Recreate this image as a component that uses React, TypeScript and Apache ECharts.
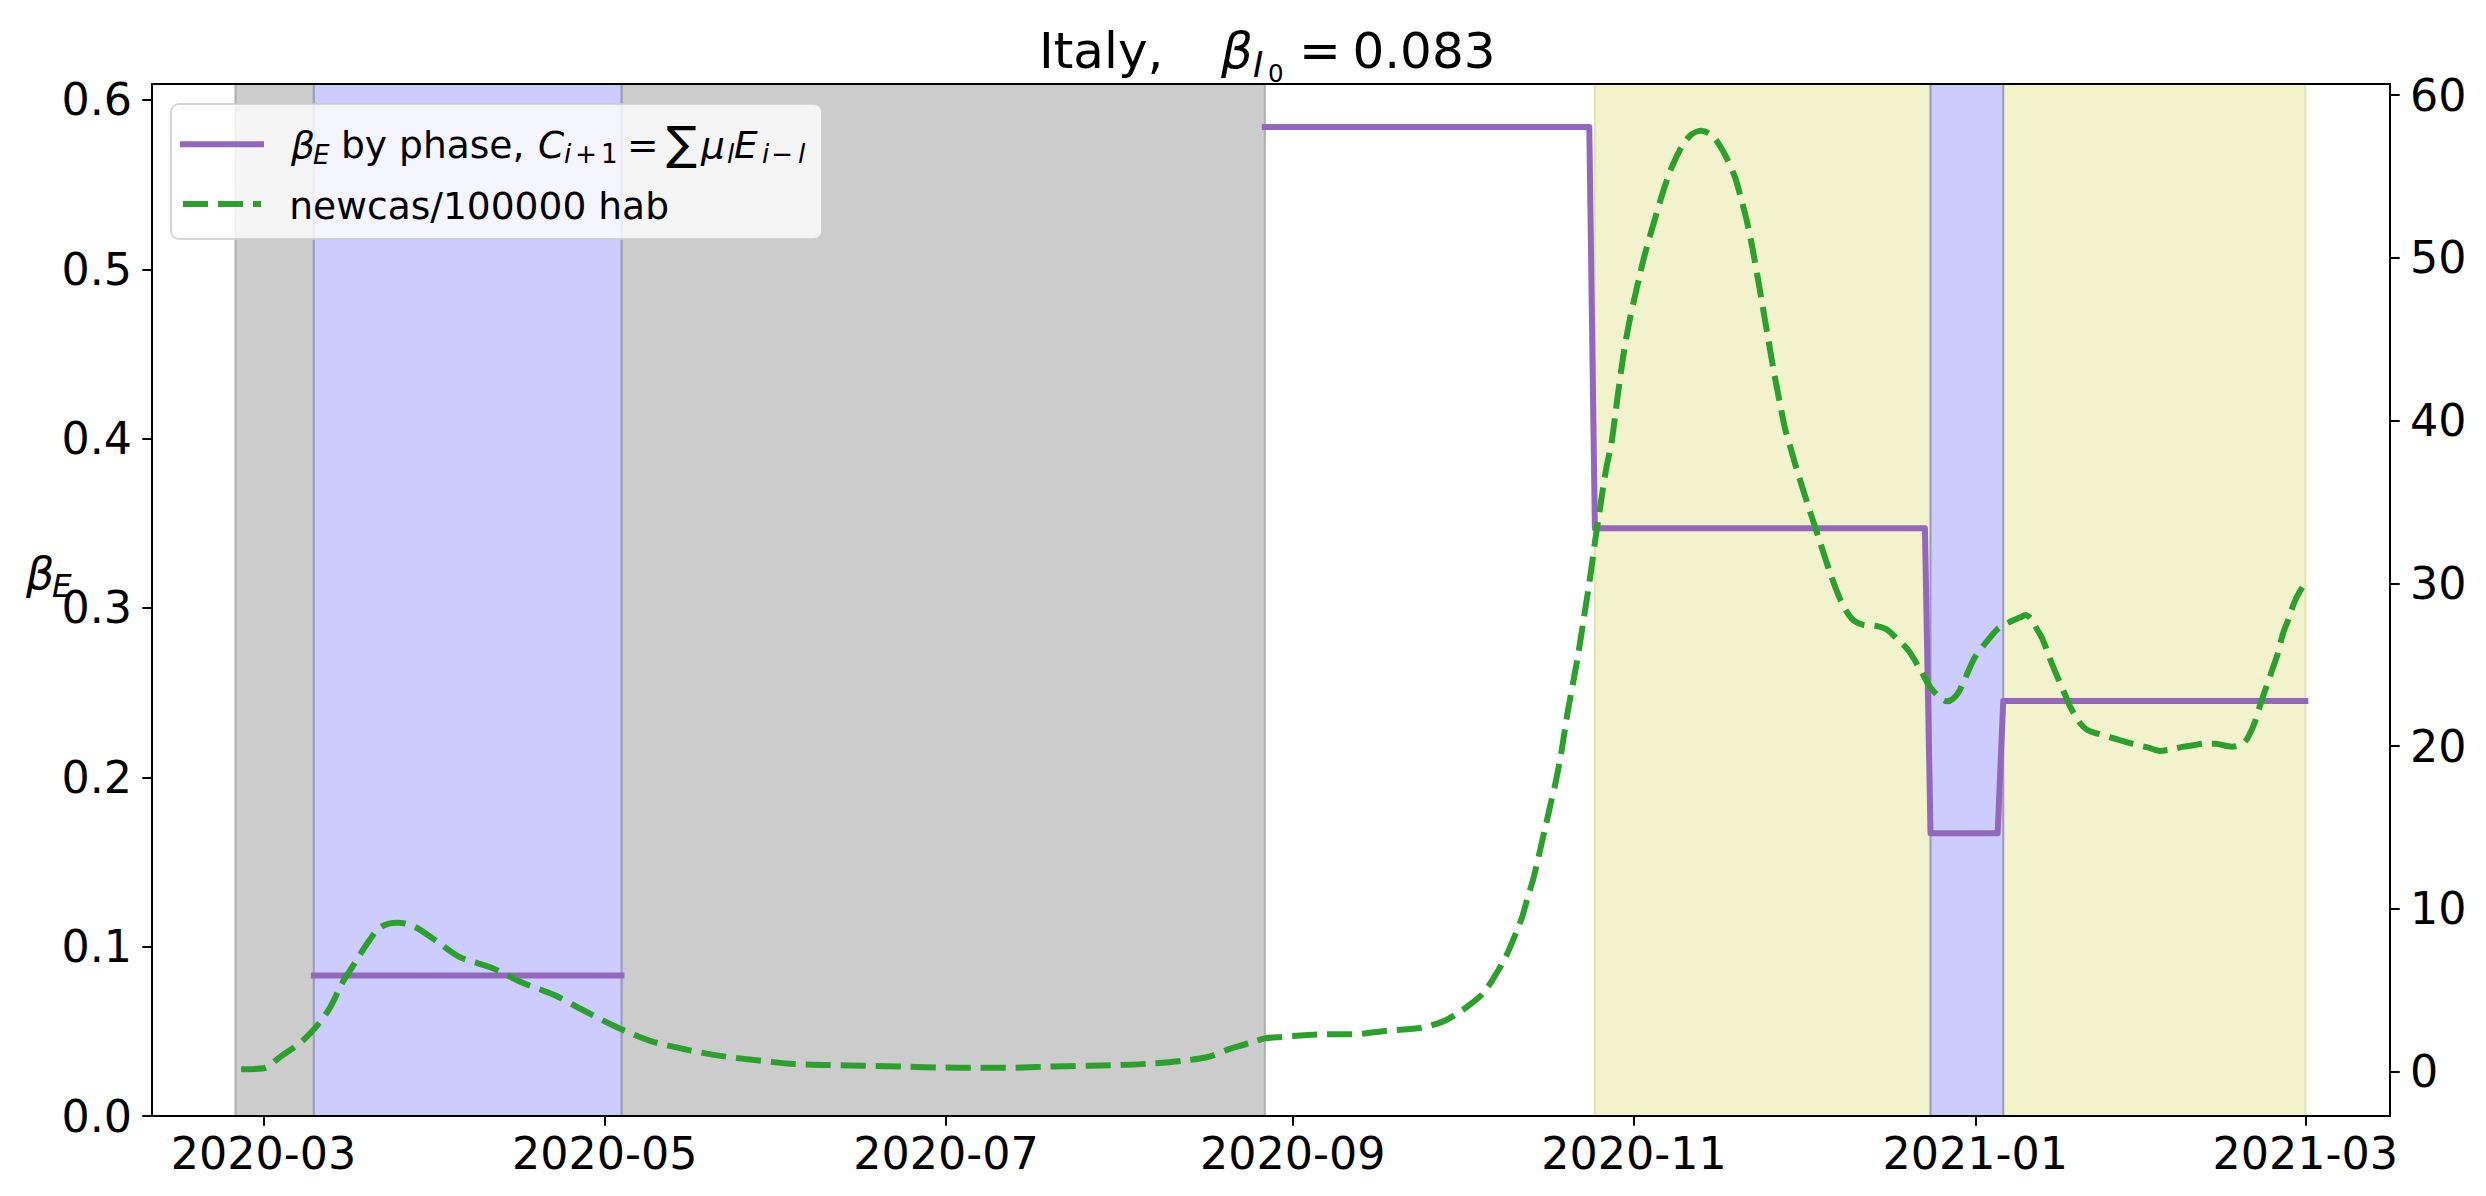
import React, { useEffect, useRef } from "react";
import * as echarts from "echarts";

// ---------- data ----------
// phases of beta_E (solid purple step line, left axis)
const phaseStarts = ["2020-03-10", "2020-08-27", "2020-10-25", "2020-12-24", "2021-01-06"];
const phaseEnds = ["2020-05-04", "2020-10-24", "2020-12-23", "2021-01-05", "2021-03-01"];
const betaValues = [0.083, 0.584, 0.347, 0.167, 0.245];

// shaded periods
const spanStarts = ["2020-02-25", "2020-05-04", "2020-10-25", "2021-01-06", "2020-03-10", "2020-12-24"];
const spanEnds = ["2020-03-10", "2020-08-27", "2020-12-24", "2021-03-01", "2020-05-04", "2021-01-06"];
const spanKinds = ["gray", "gray", "yellow", "yellow", "blue", "blue"];

// new cases per 100000 inhabitants (green dashed, right axis)
const caseDates = [
  "2020-02-26", "2020-03-01", "2020-03-04", "2020-03-08", "2020-03-11", "2020-03-13", "2020-03-15",
  "2020-03-17", "2020-03-20", "2020-03-22", "2020-03-25", "2020-03-28", "2020-04-01", "2020-04-05",
  "2020-04-11", "2020-04-16", "2020-04-22", "2020-04-27", "2020-05-03", "2020-05-09", "2020-05-16",
  "2020-05-22", "2020-05-29", "2020-06-04", "2020-06-10", "2020-06-17", "2020-06-24", "2020-06-30",
  "2020-07-06", "2020-07-13", "2020-07-19", "2020-07-26", "2020-08-01", "2020-08-07", "2020-08-12",
  "2020-08-17", "2020-08-21", "2020-08-25", "2020-08-27", "2020-08-30", "2020-09-06", "2020-09-12",
  "2020-09-18", "2020-09-24", "2020-09-28", "2020-10-01", "2020-10-03", "2020-10-05", "2020-10-07",
  "2020-10-09", "2020-10-11", "2020-10-12", "2020-10-13", "2020-10-14", "2020-10-15", "2020-10-16",
  "2020-10-17", "2020-10-18", "2020-10-19", "2020-10-20", "2020-10-21", "2020-10-22", "2020-10-23",
  "2020-10-24", "2020-10-25", "2020-10-26", "2020-10-27", "2020-10-28", "2020-10-29", "2020-10-30",
  "2020-10-31", "2020-11-01", "2020-11-02", "2020-11-03", "2020-11-05", "2020-11-07", "2020-11-09",
  "2020-11-11", "2020-11-13", "2020-11-15", "2020-11-17", "2020-11-19", "2020-11-20", "2020-11-21",
  "2020-11-22", "2020-11-23", "2020-11-24", "2020-11-25", "2020-11-26", "2020-11-27", "2020-11-28",
  "2020-11-29", "2020-11-30", "2020-12-02", "2020-12-04", "2020-12-06", "2020-12-08", "2020-12-10",
  "2020-12-12", "2020-12-14", "2020-12-16", "2020-12-18", "2020-12-20", "2020-12-22", "2020-12-24",
  "2020-12-26", "2020-12-27", "2020-12-28", "2020-12-29", "2020-12-30", "2020-12-31", "2021-01-01",
  "2021-01-03", "2021-01-05", "2021-01-07", "2021-01-09", "2021-01-10", "2021-01-11", "2021-01-12",
  "2021-01-13", "2021-01-14", "2021-01-15", "2021-01-16", "2021-01-17", "2021-01-18", "2021-01-19",
  "2021-01-20", "2021-01-21", "2021-01-23", "2021-01-26", "2021-01-29", "2021-02-01", "2021-02-03",
  "2021-02-05", "2021-02-07", "2021-02-09", "2021-02-11", "2021-02-13", "2021-02-15", "2021-02-16",
  "2021-02-18", "2021-02-19", "2021-02-20", "2021-02-21", "2021-02-22", "2021-02-23", "2021-02-24",
  "2021-02-25", "2021-02-26", "2021-02-27", "2021-02-28", "2021-03-01",
];
const caseValues = [
  0.15, 0.2, 0.9, 1.9, 3.0, 4.0, 5.4,
  6.5, 8.1, 8.9, 9.15, 8.9, 8.0, 7.05,
  6.35, 5.5, 4.7, 3.8, 2.75, 1.9, 1.32,
  0.95, 0.66, 0.46, 0.4, 0.36, 0.3, 0.25,
  0.24, 0.24, 0.3, 0.36, 0.4, 0.5, 0.65,
  0.91, 1.42, 1.83, 2.04, 2.12, 2.29, 2.3,
  2.52, 2.69, 3.1, 3.7, 4.2, 4.8, 5.8,
  7.0, 8.6, 9.5, 10.7, 11.85, 13.3, 14.8,
  16.3, 17.8, 19.6, 21.8, 23.7, 25.6, 27.8,
  30.0, 32.5, 34.8, 37.0, 38.7, 41.3, 43.8,
  45.8, 47.4, 48.9, 50.3, 52.7, 54.9, 56.5,
  57.5, 57.8, 57.5, 56.5, 55.0, 53.8, 52.5,
  50.9, 49.0, 47.0, 45.0, 43.0, 41.2, 39.5,
  38.3, 37.1, 34.9, 32.8, 30.7, 28.9, 27.8,
  27.45, 27.4, 27.2, 26.6, 25.9, 24.8, 23.6,
  22.9, 22.75, 22.9, 23.3, 24.0, 24.8, 25.5,
  26.4, 27.2, 27.6, 27.9, 28.05, 27.8, 27.2,
  26.6, 25.7, 24.8, 24.0, 23.2, 22.4, 21.8,
  21.3, 21.0, 20.75, 20.45, 20.15, 19.9, 19.7,
  19.8, 19.95, 20.05, 20.15, 20.15, 20.0, 19.96,
  20.2, 20.7, 21.5, 22.6, 23.6, 24.6, 25.6,
  26.9, 27.8, 28.8, 29.5, 30.0,
];

// tick labels
const xTickDates = ["2020-03-01", "2020-05-01", "2020-07-01", "2020-09-01", "2020-11-01", "2021-01-01", "2021-03-01"];
const leftTicks = [0, 0.1, 0.2, 0.3, 0.4, 0.5, 0.6];
const rightTicks = [0, 10, 20, 30, 40, 50, 60];

// ---------- helpers ----------
const FONT = "DejaVu Sans";
const parseLocal = (s: string) => {
  const [y, m, d] = s.split("-").map(Number);
  return new Date(y, m - 1, d).getTime();
};
const DAY = 86400000;

type Frag = { t: string; x: number; fs: number; it?: boolean; dy?: number };
function mathText(frags: Frag[], baseline: number) {
  return frags.map((f) => ({
    type: "text",
    x: f.x,
    y: baseline + (f.dy || 0) - 0.346 * f.fs,
    z: 100,
    silent: true,
    style: {
      text: f.t,
      fontSize: f.fs,
      fontFamily: FONT,
      fontStyle: f.it ? "italic" : "normal",
      fill: "#000",
      textAlign: "left",
      textVerticalAlign: "middle",
      align: "left",
      verticalAlign: "middle",
    },
  }));
}

const SPAN_STYLE: Record<string, { fill: string; edge: string }> = {
  gray: { fill: "#cccccc", edge: "#aeaeae" },
  yellow: { fill: "#f2f2cc", edge: "#e2e2b2" },
  blue: { fill: "#ccccff", edge: "#9a9ac6" },
};

const LF = 37.6; // legend font size
const LS = 26.3; // legend subscript size

export default function App() {
  const ref = useRef<HTMLDivElement>(null);

  useEffect(() => {
    if (!ref.current) return;
    const chart = echarts.init(ref.current, undefined, { renderer: "svg" });

    // build beta step blocks (break where phases are not contiguous)
    const blocks: [number, number][][] = [];
    phaseStarts.forEach((s, i) => {
      const pts: [number, number][] = [
        [parseLocal(s), betaValues[i]],
        [parseLocal(phaseEnds[i]), betaValues[i]],
      ];
      if (i > 0 && parseLocal(s) - parseLocal(phaseEnds[i - 1]) <= DAY * 1.5) {
        blocks[blocks.length - 1].push(...pts);
      } else {
        blocks.push(pts);
      }
    });

    const markAreaData = spanStarts.map((s, i) => {
      const st = SPAN_STYLE[spanKinds[i]];
      return [
        { xAxis: parseLocal(s), itemStyle: { color: st.fill, borderColor: st.edge, borderWidth: 2 } },
        { xAxis: parseLocal(spanEnds[i]) },
      ];
    });

    const xMin = new Date(2020, 1, 10, 1, 40).getTime();
    const xMax = new Date(2021, 2, 16, 3, 20).getTime();
    const xTicks = xTickDates.map(parseLocal);

    const axisLabelBase = { color: "#000", fontSize: 44.4, fontFamily: FONT };
    const axisLineBase = { show: true, onZero: false, lineStyle: { color: "#000", width: 2 } };
    const tickBase = { show: true, length: 9.7, lineStyle: { color: "#000", width: 2 } };

    const purpleSeries = blocks.map((b) => ({
      type: "line",
      xAxisIndex: 0,
      yAxisIndex: 0,
      data: b,
      showSymbol: false,
      symbol: "none",
      silent: true,
      z: 3,
      lineStyle: { color: "#9467bd", width: 6, cap: "square", join: "round" },
    }));

    const option: any = {
      animation: false,
      backgroundColor: "#ffffff",
      grid: { left: 152, right: 96, top: 84, bottom: 80, containLabel: false },
      xAxis: [
        {
          type: "value",
          min: xMin,
          max: xMax,
          position: "bottom",
          z: 10,
          axisLine: axisLineBase,
          axisTick: { ...tickBase, customValues: xTicks },
          axisLabel: {
            ...axisLabelBase,
            customValues: xTicks,
            margin: 15,
            hideOverlap: false,
            showMinLabel: true,
            showMaxLabel: true,
            formatter: (v: number) => {
              const d = new Date(v);
              return `${d.getFullYear()}-${String(d.getMonth() + 1).padStart(2, "0")}`;
            },
          },
          splitLine: { show: false },
        },
        {
          type: "value",
          min: xMin,
          max: xMax,
          position: "top",
          z: 10,
          axisLine: axisLineBase,
          axisTick: { show: false },
          axisLabel: { show: false },
          splitLine: { show: false },
        },
      ],
      yAxis: [
        {
          type: "value",
          min: 0,
          max: 0.6094,
          position: "left",
          z: 10,
          axisLine: axisLineBase,
          axisTick: { ...tickBase, customValues: leftTicks },
          axisLabel: {
            ...axisLabelBase,
            customValues: leftTicks,
            margin: 20,
            formatter: (v: number) => v.toFixed(1),
          },
          splitLine: { show: false },
        },
        {
          type: "value",
          min: -2.73,
          max: 60.68,
          position: "right",
          z: 10,
          axisLine: axisLineBase,
          axisTick: { ...tickBase, customValues: rightTicks },
          axisLabel: {
            ...axisLabelBase,
            customValues: rightTicks,
            margin: 20,
            formatter: (v: number) => String(Math.round(v)),
          },
          splitLine: { show: false },
        },
      ],
      series: [
        {
          type: "line",
          xAxisIndex: 0,
          yAxisIndex: 0,
          data: [],
          silent: true,
          z: 1,
          markArea: { silent: true, data: markAreaData },
        },
        ...purpleSeries,
        {
          type: "line",
          xAxisIndex: 0,
          yAxisIndex: 1,
          data: caseDates.map((d, i) => [parseLocal(d), caseValues[i]]),
          showSymbol: false,
          symbol: "none",
          smooth: 0.3,
          silent: true,
          z: 4,
          lineStyle: { color: "#2ca02c", width: 6, type: [25, 10], cap: "butt", join: "round" },
        },
      ],
      graphic: [
        // title
        ...mathText(
          [
            { t: "Italy,", x: 1039, fs: 50 },
            { t: "β", x: 1221, fs: 50, it: true },
            { t: "I", x: 1253, fs: 35, it: true, dy: 8.4 },
            { t: "0", x: 1268, fs: 24.5, dy: 13.4 },
            { t: "=", x: 1299, fs: 50 },
            { t: "0.083", x: 1352.4, fs: 50 },
          ],
          68.3
        ),
        // y axis label
        ...mathText(
          [
            { t: "β", x: 26, fs: 44.4, it: true },
            { t: "E", x: 52, fs: 31.1, it: true, dy: 7.7 },
          ],
          589
        ),
        // legend box
        {
          type: "rect",
          z: 90,
          silent: true,
          shape: { x: 171, y: 104, width: 651, height: 135, r: 8 },
          style: { fill: "rgba(255,255,255,0.8)", stroke: "rgba(204,204,204,0.8)", lineWidth: 2 },
        },
        {
          type: "line",
          z: 95,
          silent: true,
          shape: { x1: 183, y1: 144.3, x2: 261, y2: 144.3 },
          style: { stroke: "#9467bd", lineWidth: 6, lineCap: "square" },
        },
        {
          type: "line",
          z: 95,
          silent: true,
          shape: { x1: 183, y1: 204, x2: 261, y2: 204 },
          style: { stroke: "#2ca02c", lineWidth: 6, lineDash: [25, 10], lineCap: "butt" },
        },
        ...mathText(
          [
            { t: "β", x: 291, fs: LF, it: true },
            { t: "E", x: 313, fs: LS, it: true, dy: 5.5 },
            { t: "by phase,", x: 341, fs: LF },
            { t: "C", x: 538, fs: LF, it: true },
            { t: "i", x: 564, fs: LS, it: true, dy: 5 },
            { t: "+", x: 575, fs: LS, dy: 5 },
            { t: "1", x: 601, fs: LS, dy: 5 },
            { t: "=", x: 627, fs: LF },
            { t: "∑", x: 666, fs: 46, dy: 0 },
            { t: "μ", x: 701, fs: LF, it: true },
            { t: "l", x: 727, fs: LS, it: true, dy: 5 },
            { t: "E", x: 734, fs: LF, it: true },
            { t: "i", x: 762, fs: LS, it: true, dy: 5 },
            { t: "−", x: 771, fs: LS, dy: 5 },
            { t: "l", x: 798, fs: LS, it: true, dy: 5 },
          ],
          158.5
        ),
        ...mathText([{ t: "newcas/100000 hab", x: 289.3, fs: LF }], 219),
      ],
    };

    chart.setOption(option);
    return () => chart.dispose();
  }, []);

  return (
    <div
      ref={ref}
      style={{ position: "fixed", left: 0, top: 0, width: 2486, height: 1196, background: "#fff" }}
    />
  );
}
